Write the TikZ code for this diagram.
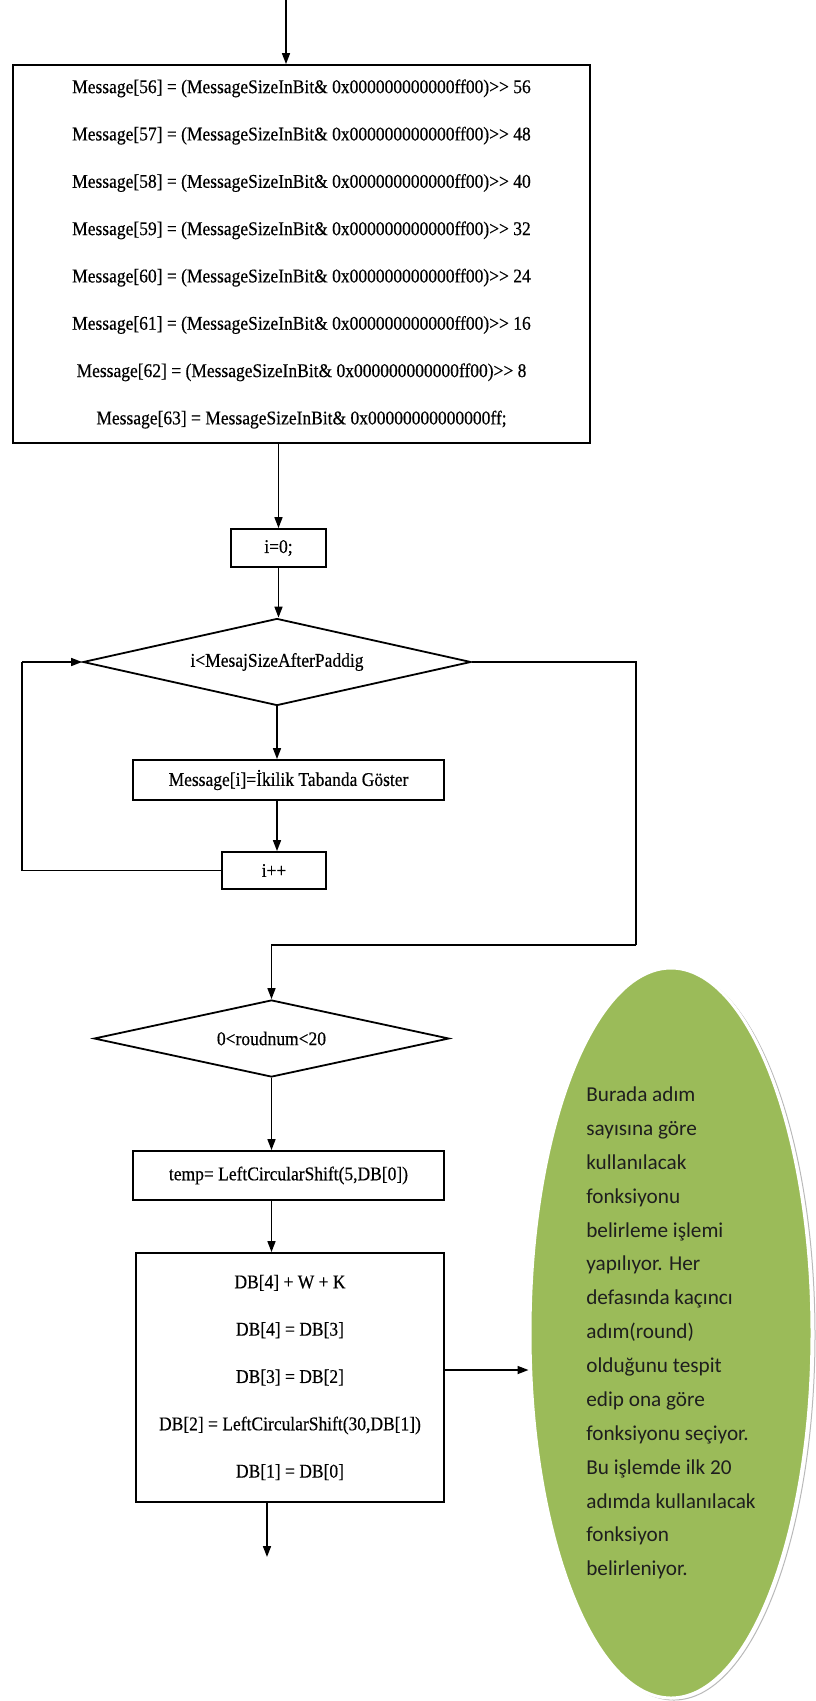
\documentclass[tikz,border=0pt]{standalone}
\usepackage{fontspec}
\usetikzlibrary{shapes.geometric,arrows.meta}
\newfontfamily\flowfont[FakeStretch=0.9,FakeBold=0.4]{Liberation Serif}
\newfontfamily\notefont{Carlito}
\definecolor{notegreen}{HTML}{9BBB59}
\definecolor{notetext}{HTML}{1E1E1E}

\begin{document}
\begin{tikzpicture}[x=1bp,y=-1bp,
  proc/.style={draw, rectangle, line width=1.8bp, inner sep=0pt, align=center,
    font=\flowfont\fontsize{19.5}{47.5}\selectfont},
  decision/.style={draw, diamond, aspect=4.4, line width=1.8bp, inner sep=0pt,
    font=\flowfont\fontsize{19.5}{24}\selectfont},
  arr/.style={line width=1.6bp, -{Triangle[length=11bp,width=8bp]}},
  link/.style={line width=1.6bp},
  notebubble/.style={ellipse, minimum width=282bp, minimum height=730bp, inner sep=0pt}]

\fill[white] (0,0) rectangle (816,1701);
\useasboundingbox (0,0) rectangle (816,1701);

% message length bytes
\node[proc, minimum width=577bp, minimum height=378bp] (msg) at (301.5,254)
  {Message[56] = (MessageSizeInBit\& 0x000000000000ff00)>{}> 56\\
   Message[57] = (MessageSizeInBit\& 0x000000000000ff00)>{}> 48\\
   Message[58] = (MessageSizeInBit\& 0x000000000000ff00)>{}> 40\\
   Message[59] = (MessageSizeInBit\& 0x000000000000ff00)>{}> 32\\
   Message[60] = (MessageSizeInBit\& 0x000000000000ff00)>{}> 24\\
   Message[61] = (MessageSizeInBit\& 0x000000000000ff00)>{}> 16\\
   Message[62] = (MessageSizeInBit\& 0x000000000000ff00)>{}> 8\\
   Message[63] = MessageSizeInBit\& 0x00000000000000ff;};

% binary display loop
\node[proc, minimum width=95bp, minimum height=38bp] (i0) at (278.5,548) {i=0;};
\node[decision, minimum width=388bp, minimum height=87bp] (d1) at (277,662) {i<MesajSizeAfterPaddig\\[6bp]};
\node[proc, minimum width=311bp, minimum height=40bp] (mi) at (288.5,780) {Message[i]=İkilik Tabanda Göster};
\node[proc, minimum width=104bp, minimum height=37bp] (ipp) at (274,870.5) {i++};

% round loop
\node[decision, minimum width=355bp, minimum height=77bp] (d2) at (271.5,1038.5) {0<roudnum<20};
\node[proc, minimum width=311bp, minimum height=49bp] (temp) at (288.5,1175.5) {temp= LeftCircularShift(5,DB[0])};
\node[proc, minimum width=308bp, minimum height=249bp] (db) at (290,1377.5)
  {DB[4] + W + K\\
   DB[4] = DB[3]\\
   DB[3] = DB[2]\\
   DB[2] = LeftCircularShift(30,DB[1])\\
   DB[1] = DB[0]};

% explanatory note
\node[notebubble, draw=gray!55, line width=1bp] (noteshadow) at (674,1335) {};
\node[notebubble, fill=notegreen, draw=white, line width=3bp, align=left, text=notetext,
  font=\notefont\fontsize{21.3}{34}\selectfont] (ell) at (671,1333)
  {Burada adım\\
   sayısına göre\\
   kullanılacak\\
   fonksiyonu\\
   belirleme işlemi\\
   yapılıyor. Her\\
   defasında kaçıncı\\
   adım(round)\\
   olduğunu tespit\\
   edip ona göre\\
   fonksiyonu seçiyor.\\
   Bu işlemde ilk 20\\
   adımda kullanılacak\\
   fonksiyon\\
   belirleniyor.};

% free ends and bends
\coordinate (start) at (286,0);
\coordinate (loopx) at (22,662);
\coordinate (exitx) at (636,945);
\coordinate (finish) at (267,1557);

% connectors
\draw[arr] (start) -- (start |- msg.north);
\draw[arr] (msg.south -| i0) -- (i0.north);
\draw[arr] (i0.south) -- (i0.south |- d1.north);
\draw[arr] (d1.south) -- (d1.south |- mi.north);
\draw[arr] (d1.south |- mi.south) -- (d1.south |- ipp.north);
\draw[link] (ipp.west) -| (loopx);
\draw[arr] (loopx) -- (d1.west);
\draw[link] (d1.east) -| (exitx);
\draw[arr] (exitx) -| (d2.north);
\draw[arr] (d2.south) -- (d2.south |- temp.north);
\draw[arr] (d2.south |- temp.south) -- (d2.south |- db.north);
\draw[arr] ([yshift=7.5bp]db.east) -- ([yshift=7.5bp]db.east -| ell.west);
\draw[arr] (finish |- db.south) -- (finish);

\end{tikzpicture}
\end{document}
